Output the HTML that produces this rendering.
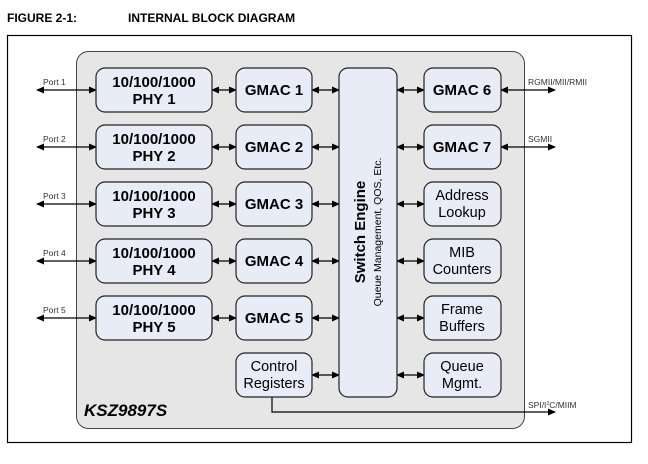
<!DOCTYPE html>
<html><head><style>
body{margin:0;width:648px;height:459px;background:#fff;overflow:hidden}
</style></head><body>
<svg width="648" height="459" xmlns="http://www.w3.org/2000/svg" font-family="Liberation Sans, sans-serif">
<defs>
<marker id="a" markerWidth="8" markerHeight="8" refX="7" refY="4" orient="auto-start-reverse" markerUnits="userSpaceOnUse"><path d="M0,0.5 L8,4 L0,7.5 z" fill="#000"/></marker>
</defs>
<text x="7" y="22" font-size="12" font-weight="bold">FIGURE 2-1:</text>
<text x="128" y="22" font-size="12" font-weight="bold">INTERNAL BLOCK DIAGRAM</text>
<rect x="7.5" y="35.5" width="624" height="407" fill="none" stroke="#000" stroke-width="1.2"/>
<rect x="76.5" y="51.5" width="448" height="377" rx="12" fill="#e6e6e6" stroke="#444" stroke-width="1"/>
<g stroke="#000" stroke-width="1.2" fill="none" marker-start="url(#a)" marker-end="url(#a)">
<line x1="37" y1="90" x2="96" y2="90"/><line x1="37" y1="147" x2="96" y2="147"/><line x1="37" y1="204" x2="96" y2="204"/><line x1="37" y1="261" x2="96" y2="261"/><line x1="37" y1="318" x2="96" y2="318"/>
<line x1="212" y1="90" x2="236" y2="90"/><line x1="212" y1="147" x2="236" y2="147"/><line x1="212" y1="204" x2="236" y2="204"/><line x1="212" y1="261" x2="236" y2="261"/><line x1="212" y1="318" x2="236" y2="318"/>
<line x1="312" y1="90" x2="339" y2="90"/><line x1="312" y1="147" x2="339" y2="147"/><line x1="312" y1="204" x2="339" y2="204"/><line x1="312" y1="261" x2="339" y2="261"/><line x1="312" y1="318" x2="339" y2="318"/><line x1="312" y1="375" x2="339" y2="375"/>
<line x1="397" y1="90" x2="424" y2="90"/><line x1="397" y1="147" x2="424" y2="147"/><line x1="397" y1="204" x2="424" y2="204"/><line x1="397" y1="261" x2="424" y2="261"/><line x1="397" y1="318" x2="424" y2="318"/><line x1="397" y1="375" x2="424" y2="375"/>
<line x1="501" y1="90" x2="555" y2="90"/><line x1="501" y1="147" x2="555" y2="147"/>
</g>
<path d="M272,397 V412 H555" stroke="#000" stroke-width="1.2" fill="none" marker-end="url(#a)"/>
<g fill="#e8ecf7" stroke="#222" stroke-width="1.2">
<rect x="96" y="68" width="116" height="44" rx="9"/><rect x="96" y="125" width="116" height="44" rx="9"/><rect x="96" y="182" width="116" height="44" rx="9"/><rect x="96" y="239" width="116" height="44" rx="9"/><rect x="96" y="296" width="116" height="44" rx="9"/>
<rect x="236" y="68" width="76" height="44" rx="9"/><rect x="236" y="125" width="76" height="44" rx="9"/><rect x="236" y="182" width="76" height="44" rx="9"/><rect x="236" y="239" width="76" height="44" rx="9"/><rect x="236" y="296" width="76" height="44" rx="9"/><rect x="236" y="353" width="76" height="44" rx="9"/>
<rect x="339" y="68" width="58" height="329" rx="9"/>
<rect x="424" y="68" width="77" height="44" rx="9"/><rect x="424" y="125" width="77" height="44" rx="9"/><rect x="424" y="182" width="77" height="44" rx="9"/><rect x="424" y="239" width="77" height="44" rx="9"/><rect x="424" y="296" width="77" height="44" rx="9"/><rect x="424" y="353" width="77" height="44" rx="9"/>
</g>
<g font-size="8.5" fill="#333">
<text x="43" y="85">Port 1</text><text x="43" y="142">Port 2</text><text x="43" y="199">Port 3</text><text x="43" y="256">Port 4</text><text x="43" y="313">Port 5</text>
<text x="528" y="85">RGMII/MII/RMII</text><text x="528" y="142">SGMII</text><text x="528" y="408">SPI/I<tspan font-size="5" dy="-3">2</tspan><tspan dy="3">C/MIIM</tspan></text>
</g>
<g font-size="15" font-weight="bold" text-anchor="middle">
<text x="154" y="87">10/100/1000</text><text x="154" y="104">PHY 1</text>
<text x="154" y="144">10/100/1000</text><text x="154" y="161">PHY 2</text>
<text x="154" y="201">10/100/1000</text><text x="154" y="218">PHY 3</text>
<text x="154" y="258">10/100/1000</text><text x="154" y="275">PHY 4</text>
<text x="154" y="315">10/100/1000</text><text x="154" y="332">PHY 5</text>
<text x="274" y="95">GMAC 1</text><text x="274" y="152">GMAC 2</text><text x="274" y="209">GMAC 3</text><text x="274" y="266">GMAC 4</text><text x="274" y="323">GMAC 5</text>
<text x="462" y="95">GMAC 6</text><text x="462" y="152">GMAC 7</text>
</g>
<g font-size="14.5" text-anchor="middle">
<text x="274" y="371">Control</text><text x="274" y="388">Registers</text>
<text x="462" y="200">Address</text><text x="462" y="217">Lookup</text>
<text x="462" y="257">MIB</text><text x="462" y="274">Counters</text>
<text x="462" y="314">Frame</text><text x="462" y="331">Buffers</text>
<text x="462" y="371">Queue</text><text x="462" y="388">Mgmt.</text>
</g>
<g transform="translate(368,232) rotate(-90)" text-anchor="middle">
<text x="0" y="-3" font-size="15" font-weight="bold">Switch Engine</text>
<text x="0" y="13" font-size="10.5">Queue Management, QOS, Etc.</text>
</g>
<text x="84" y="416" font-size="17" font-weight="bold" font-style="italic">KSZ9897S</text>
</svg>
</body></html>
